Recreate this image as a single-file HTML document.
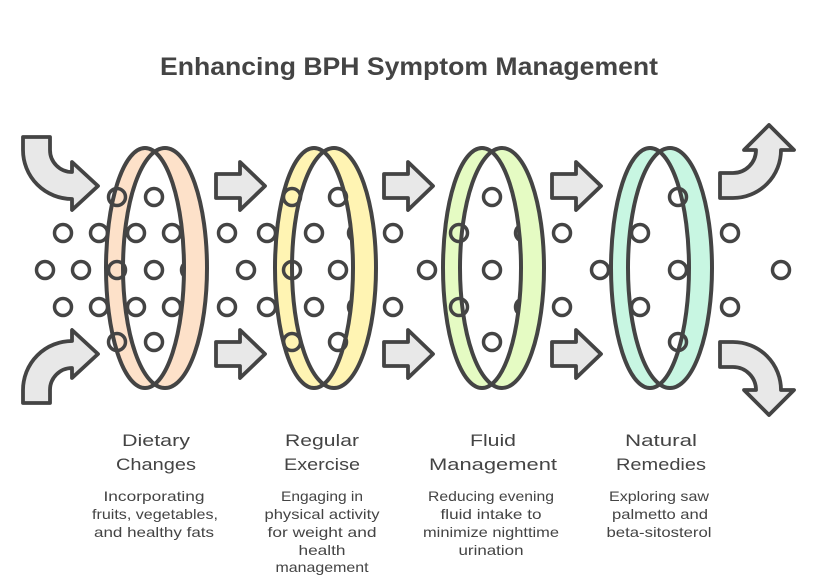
<!DOCTYPE html>
<html>
<head>
<meta charset="utf-8">
<style>
html,body{margin:0;padding:0;background:#fff;}
svg{display:block;}
text{font-family:"Liberation Sans",sans-serif;fill:#444;}
</style>
</head>
<body>
<svg width="818" height="587" viewBox="0 0 818 587" xmlns="http://www.w3.org/2000/svg">
<rect width="818" height="587" fill="#fff"/>

<text x="409" y="75" font-size="25" font-weight="bold" text-anchor="middle" textLength="498" lengthAdjust="spacingAndGlyphs">Enhancing BPH Symptom Management</text>

<!-- hidden-behind circles -->
<g fill="none" stroke="#444" stroke-width="3.5">
<circle cx="190" cy="270" r="8.5"/>
<circle cx="357" cy="233" r="8.5"/>
<circle cx="357" cy="307" r="8.5"/>
<circle cx="524" cy="233" r="8.5"/>
<circle cx="524" cy="307" r="8.5"/>
</g>

<!-- ring fills (crescents via evenodd) -->
<g fill-rule="evenodd">
<path fill="#fde1c9" d="M106,268 a39,120 0 1,0 78,0 a39,120 0 1,0 -78,0 Z M123,268 a42,120 0 1,0 84,0 a42,120 0 1,0 -84,0 Z"/>
<path fill="#fff4b3" d="M275,268 a39,120 0 1,0 78,0 a39,120 0 1,0 -78,0 Z M292,268 a42,120 0 1,0 84,0 a42,120 0 1,0 -84,0 Z"/>
<path fill="#e5fbc3" d="M443,268 a39,120 0 1,0 78,0 a39,120 0 1,0 -78,0 Z M460,268 a42,120 0 1,0 84,0 a42,120 0 1,0 -84,0 Z"/>
<path fill="#c8f6e2" d="M611,268 a39,120 0 1,0 78,0 a39,120 0 1,0 -78,0 Z M628,268 a42,120 0 1,0 84,0 a42,120 0 1,0 -84,0 Z"/>
</g>

<!-- ring strokes -->
<g fill="none" stroke="#444" stroke-width="4">
<ellipse cx="145" cy="268" rx="39" ry="120"/>
<ellipse cx="165" cy="268" rx="42" ry="120"/>
<ellipse cx="314" cy="268" rx="39" ry="120"/>
<ellipse cx="334" cy="268" rx="42" ry="120"/>
<ellipse cx="482" cy="268" rx="39" ry="120"/>
<ellipse cx="502" cy="268" rx="42" ry="120"/>
<ellipse cx="650" cy="268" rx="39" ry="120"/>
<ellipse cx="670" cy="268" rx="42" ry="120"/>
</g>

<!-- visible circles -->
<g fill="none" stroke="#444" stroke-width="3.5">
<circle cx="117" cy="197" r="8.5"/><circle cx="154" cy="197" r="8.5"/>
<circle cx="292" cy="197" r="8.5"/><circle cx="338" cy="197" r="8.5"/>
<circle cx="492" cy="197" r="8.5"/><circle cx="678" cy="197" r="8.5"/>

<circle cx="63" cy="233" r="8.5"/><circle cx="99" cy="233" r="8.5"/>
<circle cx="136" cy="233" r="8.5"/><circle cx="172" cy="233" r="8.5"/>
<circle cx="227" cy="233" r="8.5"/><circle cx="267" cy="233" r="8.5"/>
<circle cx="314" cy="233" r="8.5"/><circle cx="393" cy="233" r="8.5"/>
<circle cx="459" cy="233" r="8.5"/><circle cx="562" cy="233" r="8.5"/>
<circle cx="640" cy="233" r="8.5"/><circle cx="730" cy="233" r="8.5"/>

<circle cx="45" cy="270" r="8.5"/><circle cx="81" cy="270" r="8.5"/>
<circle cx="117" cy="270" r="8.5"/><circle cx="154" cy="270" r="8.5"/>
<circle cx="246" cy="270" r="8.5"/><circle cx="292" cy="270" r="8.5"/>
<circle cx="338" cy="270" r="8.5"/><circle cx="427" cy="270" r="8.5"/>
<circle cx="492" cy="270" r="8.5"/><circle cx="600" cy="270" r="8.5"/>
<circle cx="678" cy="270" r="8.5"/><circle cx="781" cy="270" r="8.5"/>

<circle cx="63" cy="307" r="8.5"/><circle cx="99" cy="307" r="8.5"/>
<circle cx="136" cy="307" r="8.5"/><circle cx="172" cy="307" r="8.5"/>
<circle cx="227" cy="307" r="8.5"/><circle cx="267" cy="307" r="8.5"/>
<circle cx="314" cy="307" r="8.5"/><circle cx="393" cy="307" r="8.5"/>
<circle cx="459" cy="307" r="8.5"/><circle cx="562" cy="307" r="8.5"/>
<circle cx="640" cy="307" r="8.5"/><circle cx="730" cy="307" r="8.5"/>

<circle cx="117" cy="342" r="8.5"/><circle cx="154" cy="342" r="8.5"/>
<circle cx="292" cy="342" r="8.5"/><circle cx="338" cy="342" r="8.5"/>
<circle cx="492" cy="342" r="8.5"/><circle cx="678" cy="342" r="8.5"/>
</g>

<!-- arrows -->
<g fill="#e8e8e8" stroke="#444" stroke-width="3.8" stroke-linejoin="round">
<path d="M216,174 H240 V162 L265,186 L240,210 V198 H216 Z"/>
<path d="M216,342 H240 V330 L265,354 L240,378 V366 H216 Z"/>
<path d="M384,174 H408 V162 L433,186 L408,210 V198 H384 Z"/>
<path d="M384,342 H408 V330 L433,354 L408,378 V366 H384 Z"/>
<path d="M552,174 H576 V162 L601,186 L576,210 V198 H552 Z"/>
<path d="M552,342 H576 V330 L601,354 L576,378 V366 H552 Z"/>
<path d="M23,137 H50 V150 A22,22 0 0 0 72,172 V162 L98,186 L72,210 V199 A49,49 0 0 1 23,150 Z"/>
<path d="M23,403 H50 V390 A22,22 0 0 1 72,368 V378 L98,354 L72,330 V341 A49,49 0 0 0 23,390 Z"/>
<path d="M720,173 H733 A23,23 0 0 0 756,150 H744 L769,125 L794,150 H781 A48,48 0 0 1 733,198 H720 Z"/>
<path d="M720,367 H733 A23,23 0 0 1 756,390 H744 L769,415 L794,390 H781 A48,48 0 0 0 733,342 H720 Z"/>
</g>

<!-- labels -->
<g font-size="17" text-anchor="middle">
<text x="156" y="446" textLength="68" lengthAdjust="spacingAndGlyphs">Dietary</text>
<text x="156" y="470" textLength="80" lengthAdjust="spacingAndGlyphs">Changes</text>
<text x="322" y="446" textLength="74" lengthAdjust="spacingAndGlyphs">Regular</text>
<text x="322" y="470" textLength="76" lengthAdjust="spacingAndGlyphs">Exercise</text>
<text x="493" y="446" textLength="46" lengthAdjust="spacingAndGlyphs">Fluid</text>
<text x="493" y="470" textLength="128" lengthAdjust="spacingAndGlyphs">Management</text>
<text x="661" y="446" textLength="72" lengthAdjust="spacingAndGlyphs">Natural</text>
<text x="661" y="470" textLength="90" lengthAdjust="spacingAndGlyphs">Remedies</text>
</g>

<!-- descriptions -->
<g font-size="14" text-anchor="middle">
<text x="154" y="501" textLength="101" lengthAdjust="spacingAndGlyphs">Incorporating</text>
<text x="155" y="519" textLength="126" lengthAdjust="spacingAndGlyphs">fruits, vegetables,</text>
<text x="154" y="537" textLength="120" lengthAdjust="spacingAndGlyphs">and healthy fats</text>

<text x="322" y="501" textLength="82" lengthAdjust="spacingAndGlyphs">Engaging in</text>
<text x="322" y="519" textLength="115" lengthAdjust="spacingAndGlyphs">physical activity</text>
<text x="322" y="537" textLength="109" lengthAdjust="spacingAndGlyphs">for weight and</text>
<text x="322" y="555" textLength="47" lengthAdjust="spacingAndGlyphs">health</text>
<text x="322" y="572" textLength="93" lengthAdjust="spacingAndGlyphs">management</text>

<text x="491" y="501" textLength="126" lengthAdjust="spacingAndGlyphs">Reducing evening</text>
<text x="491" y="519" textLength="101" lengthAdjust="spacingAndGlyphs">fluid intake to</text>
<text x="491" y="537" textLength="136" lengthAdjust="spacingAndGlyphs">minimize nighttime</text>
<text x="491" y="555" textLength="65" lengthAdjust="spacingAndGlyphs">urination</text>

<text x="659" y="501" textLength="100" lengthAdjust="spacingAndGlyphs">Exploring saw</text>
<text x="660" y="519" textLength="96" lengthAdjust="spacingAndGlyphs">palmetto and</text>
<text x="659" y="537" textLength="105" lengthAdjust="spacingAndGlyphs">beta-sitosterol</text>
</g>
</svg>
</body>
</html>
